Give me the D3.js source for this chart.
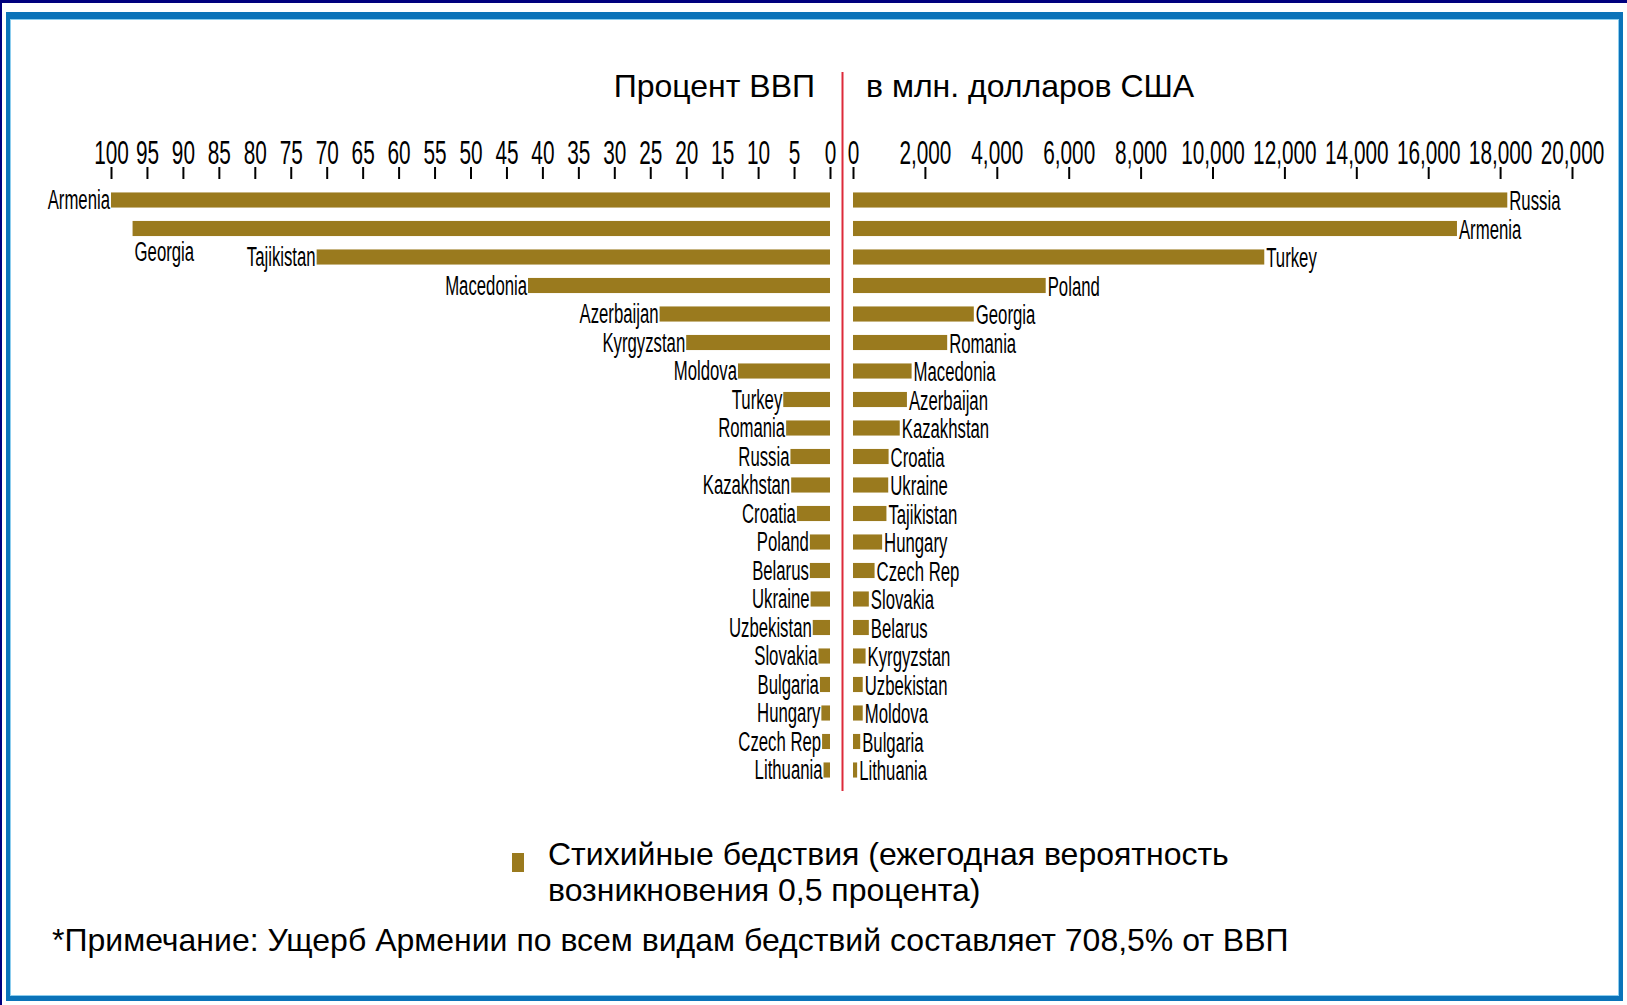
<!DOCTYPE html>
<html>
<head>
<meta charset="utf-8">
<script src="https://cdn.jsdelivr.net/npm/d3@7"></script>
<style>
  body { margin: 0; background: #fff; }
  text { font-family: "Liberation Sans", Arial, sans-serif; fill: #000; }
</style>
</head>
<body>
<div id="chart"></div>
<script>
// left half: damage as percent of GDP
var leftCountries = ["Armenia", "Georgia", "Tajikistan", "Macedonia", "Azerbaijan", "Kyrgyzstan",
    "Moldova", "Turkey", "Romania", "Russia", "Kazakhstan", "Croatia", "Poland", "Belarus",
    "Ukraine", "Uzbekistan", "Slovakia", "Bulgaria", "Hungary", "Czech Rep", "Lithuania"];
var leftValues = [100, 97, 71.4, 42, 23.7, 20, 12.8, 6.5, 6.1, 5.5, 5.4, 4.6, 2.8, 2.8,
    2.7, 2.4, 1.6, 1.4, 1.2, 1.1, 0.9];
var leftTicks = [100, 95, 90, 85, 80, 75, 70, 65, 60, 55, 50, 45, 40, 35, 30, 25, 20, 15, 10, 5, 0];

// right half: damage in million US dollars
var rightCountries = ["Russia", "Armenia", "Turkey", "Poland", "Georgia", "Romania", "Macedonia",
    "Azerbaijan", "Kazakhstan", "Croatia", "Ukraine", "Tajikistan", "Hungary", "Czech Rep",
    "Slovakia", "Belarus", "Kyrgyzstan", "Uzbekistan", "Moldova", "Bulgaria", "Lithuania"];
var rightValues = [18200, 16800, 11440, 5360, 3360, 2620, 1630, 1500, 1300, 990, 980, 930,
    810, 600, 440, 440, 350, 270, 270, 200, 115];
var rightTicks = [0, 2000, 4000, 6000, 8000, 10000, 12000, 14000, 16000, 18000, 20000];

var leftTitle = "Процент ВВП";
var rightTitle = "в млн. долларов США";
var legendLines = ["Стихийные бедствия (ежегодная вероятность", "возникновения 0,5 процента)"];
var note = "*Примечание: Ущерб Армении по всем видам бедствий составляет 708,5% от ВВП";

var W = 1627, H = 1005;
var barColor = "#9a7a1e";
var narrow = 0.62;

var svg = d3.select("#chart").append("svg")
    .attr("width", W)
    .attr("height", H);

// frame
svg.append("rect").attr("width", W).attr("height", H).attr("fill", "#fff");
svg.append("rect").attr("x", 0).attr("y", 0).attr("width", W).attr("height", 3).attr("fill", "#00007e");
svg.append("rect").attr("x", 0).attr("y", 0).attr("width", 2).attr("height", H).attr("fill", "#00007e");
svg.append("path")
    .attr("d", "M6,12H1623V1001H6Z M10,19V996H1619V19Z")
    .attr("fill", "#0b73b9")
    .attr("fill-rule", "evenodd");
svg.append("rect")
    .attr("x", 10.5).attr("y", 19.5).attr("width", 1608).attr("height", 976)
    .attr("fill", "none").attr("stroke", "#8ccdee").attr("stroke-width", 1);

// scales
var xl = d3.scaleLinear().domain([0, 100]).range([830, 111]);
var xr = d3.scaleLinear().domain([0, 20000]).range([853, 1572]);
var yl = d3.scaleBand().domain(leftCountries).range([185.75, 784.25]).paddingInner(0.47).paddingOuter(0.235);
var yr = d3.scaleBand().domain(rightCountries).range([185.75, 784.25]).paddingInner(0.47).paddingOuter(0.235);

var leftData = leftCountries.map(function(c, i) { return {name: c, value: leftValues[i]}; });
var rightData = rightCountries.map(function(c, i) { return {name: c, value: rightValues[i]}; });

// axes
function styleAxis(g) {
    g.select(".domain").remove();
    g.selectAll(".tick line").attr("stroke", "#000").attr("stroke-width", 2);
    g.selectAll(".tick text")
        .attr("font-size", 33)
        .attr("font-family", "Liberation Sans, Arial, sans-serif")
        .attr("transform", "scale(0.63,1)");
}
svg.append("g")
    .attr("transform", "translate(0,179)")
    .call(d3.axisTop(xl).tickValues(leftTicks).tickSize(12).tickPadding(3).tickFormat(d3.format("d")))
    .call(styleAxis);
svg.append("g")
    .attr("transform", "translate(0,179)")
    .call(d3.axisTop(xr).tickValues(rightTicks).tickSize(12).tickPadding(3).tickFormat(d3.format(",")))
    .call(styleAxis);

// left bars
svg.selectAll(".lbar")
    .data(leftData)
    .enter().append("rect")
    .attr("class", "lbar")
    .attr("x", function(d) { return xl(d.value); })
    .attr("width", function(d) { return xl(0) - xl(d.value); })
    .attr("y", function(d) { return yl(d.name); })
    .attr("height", yl.bandwidth())
    .attr("fill", barColor);

// right bars
svg.selectAll(".rbar")
    .data(rightData)
    .enter().append("rect")
    .attr("class", "rbar")
    .attr("x", xr(0))
    .attr("width", function(d) { return xr(d.value) - xr(0); })
    .attr("y", function(d) { return yr(d.name); })
    .attr("height", yr.bandwidth())
    .attr("fill", barColor);

// left labels (Georgia sits below its bar)
svg.selectAll(".llab")
    .data(leftData)
    .enter().append("text")
    .attr("class", "llab")
    .attr("font-size", 27)
    .attr("text-anchor", function(d) { return d.name === "Georgia" ? "start" : "end"; })
    .attr("transform", function(d) {
        var cy = yl(d.name) + yl.bandwidth() / 2;
        if (d.name === "Georgia") return "translate(" + (xl(d.value) + 2) + "," + (cy + 23 + 9) + ") scale(" + narrow + ",1)";
        return "translate(" + (xl(d.value) - 1) + "," + (cy + 9) + ") scale(" + narrow + ",1)";
    })
    .text(function(d) { return d.name; });

// right labels
svg.selectAll(".rlab")
    .data(rightData)
    .enter().append("text")
    .attr("class", "rlab")
    .attr("font-size", 27)
    .attr("transform", function(d) {
        var cy = yr(d.name) + yr.bandwidth() / 2;
        return "translate(" + (xr(d.value) + 2) + "," + (cy + 10) + ") scale(" + narrow + ",1)";
    })
    .text(function(d) { return d.name; });

// centre line
svg.append("line")
    .attr("x1", 842.5).attr("x2", 842.5)
    .attr("y1", 72).attr("y2", 791)
    .attr("stroke", "#dd2a3a").attr("stroke-width", 2);

// titles
svg.append("text").attr("x", 815).attr("y", 97).attr("text-anchor", "end")
    .attr("font-size", 32).text(leftTitle);
svg.append("text").attr("x", 866).attr("y", 97)
    .attr("font-size", 32).text(rightTitle);

// legend
svg.append("rect").attr("x", 512).attr("y", 853).attr("width", 12).attr("height", 19).attr("fill", barColor);
svg.selectAll(".leg")
    .data(legendLines)
    .enter().append("text")
    .attr("class", "leg")
    .attr("x", 548)
    .attr("y", function(d, i) { return 865 + i * 36; })
    .attr("font-size", 32)
    .text(function(d) { return d; });

// note
svg.append("text").attr("x", 52).attr("y", 951)
    .attr("font-size", 32).text(note);
</script>
</body>
</html>
